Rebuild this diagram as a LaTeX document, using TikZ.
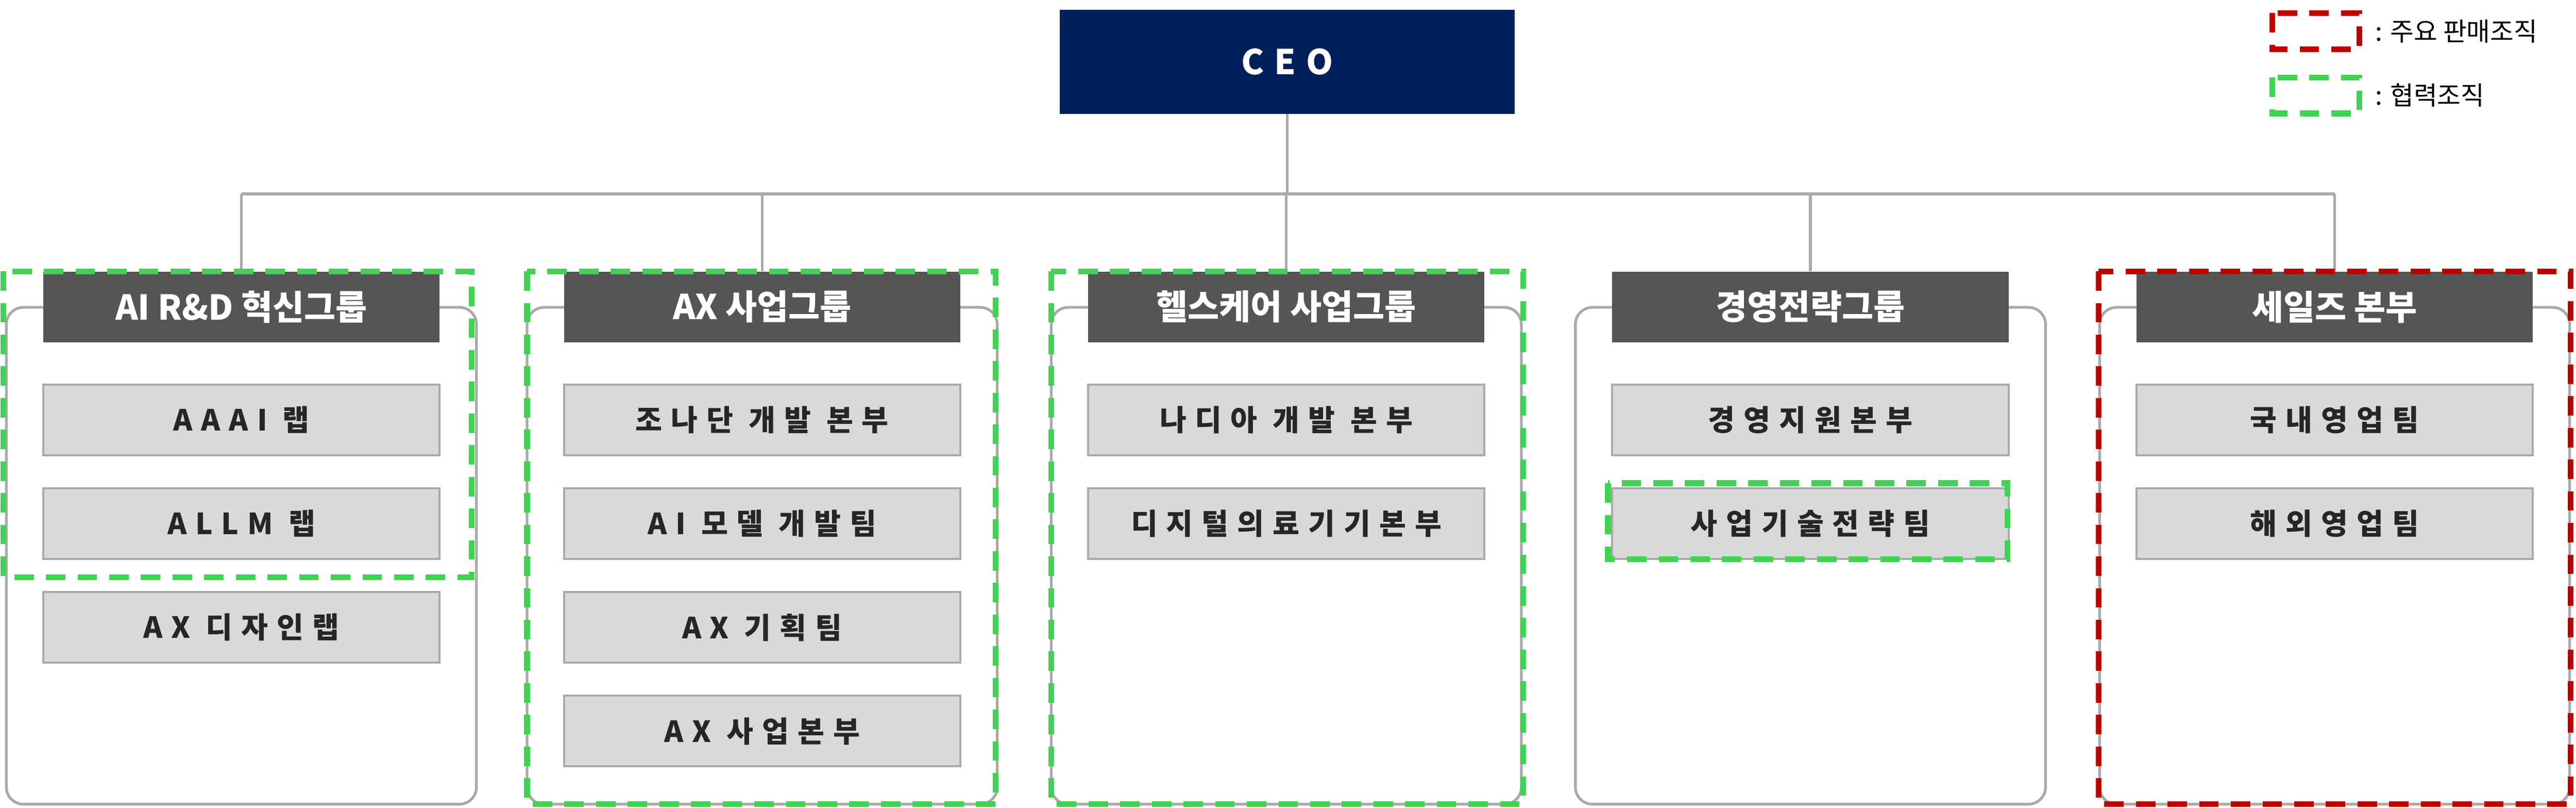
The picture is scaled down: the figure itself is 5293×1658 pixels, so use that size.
\documentclass[tikz,border=0pt]{standalone}
\usepackage{fontspec}
\setmainfont{Noto Sans CJK KR}
\newfontfamily\spacedfont{Noto Sans CJK KR}[LetterSpace=30]
\usetikzlibrary{positioning}
\definecolor{ceoblue}{RGB}{0, 32, 91}
\definecolor{headgray}{RGB}{85, 85, 85}
\definecolor{itemgray}{RGB}{217, 217, 217}
\definecolor{linegray}{RGB}{170, 170, 170}
\definecolor{salesred}{RGB}{192, 0, 0}
\definecolor{partgreen}{RGB}{62, 212, 82}
\tikzset{
  group/.style={fill=headgray, text=white, minimum width=8.14cm, minimum height=1.45cm,
    inner sep=0pt, font=\fontsize{20}{24}\selectfont\bfseries},
  unit/.style={fill=itemgray, draw=linegray, line width=1.2pt, text=black!85,
    minimum width=8.14cm, minimum height=1.45cm, inner sep=0pt,
    font=\spacedfont\fontsize{17}{21}\selectfont\bfseries},
  frame/.style={draw=linegray, line width=1.6pt, rounded corners=0.35cm},
  link/.style={draw=linegray, line width=1.6pt},
  sales/.style={draw=salesred, line width=3.4pt, dash pattern=on 0.4cm off 0.25cm},
  partner/.style={draw=partgreen, line width=3.4pt, dash pattern=on 0.4cm off 0.25cm}
}
\begin{document}
\begin{tikzpicture}[x=0.01cm, y=-0.01cm]
    \useasboundingbox (0,0) rectangle (5293,1658);
    % CEO
    \node[fill=ceoblue, text=white, minimum width=9.35cm, minimum height=2.13cm, inner sep=0pt,
      font=\spacedfont\fontsize{20}{24}\selectfont\bfseries] (ceo) at (2645,127) {CEO};
    \coordinate (bus) at (2645,398);
    \draw[link] (ceo.south) -- (bus);
    \draw[link] (496,398) -- (4797,398);

    % Groups
    \foreach \cx/\name/\title in {496/g1/{AI R\&D 혁신그룹}, 1566/g2/{AX 사업그룹},
        2643/g3/{헬스케어 사업그룹}, 3720/g4/{경영전략그룹}, 4797/g5/{세일즈 본부}} {
      \draw[frame, fill=white] (\cx-483,631) rectangle (\cx+483,1651);
      \node[group] (\name) at (\cx,630) {\title};
      \draw[link] (\name.north) -- (\cx,398);
    }

    % Units
    \node[unit] (u11) at (496,862)  {AAAI 랩};
    \node[unit] (u12) at (496,1075) {ALLM 랩};
    \node[unit] (u13) at (496,1288) {AX 디자인랩};
    \node[unit] (u21) at (1566,862)  {조나단 개발 본부};
    \node[unit] (u22) at (1566,1075) {AI 모델 개발팀};
    \node[unit] (u23) at (1566,1288) {AX 기획팀};
    \node[unit] (u24) at (1566,1501) {AX 사업본부};
    \node[unit] (u31) at (2643,862)  {나디아 개발 본부};
    \node[unit] (u32) at (2643,1075) {디지털의료기기본부};
    \node[unit] (u41) at (3720,862)  {경영지원본부};
    \node[unit] (u42) at (3720,1075) {사업기술전략팀};
    \node[unit] (u51) at (4797,862)  {국내영업팀};
    \node[unit] (u52) at (4797,1075) {해외영업팀};

    % Dashed marks
    \draw[partner] (7,557) rectangle (969,1185);
    \draw[partner] (1083,557) rectangle (2046,1651);
    \draw[partner] (2160,557) rectangle (3130,1651);
    \draw[partner] (3304,992) rectangle (4125,1148);
    \draw[sales] (4312,557) rectangle (5282,1651);

    % Legend
    \draw[sales] (4669,27) rectangle (4848,101);
    \node[anchor=west, inner sep=0pt, font=\fontsize{15}{18}\selectfont] (lg1) at (4880,64) {: 주요 판매조직};
    \draw[partner] (4669,159) rectangle (4848,233);
    \node[anchor=west, inner sep=0pt, font=\fontsize{15}{18}\selectfont] (lg2) at (4880,196) {: 협력조직};
\end{tikzpicture}
\end{document}
